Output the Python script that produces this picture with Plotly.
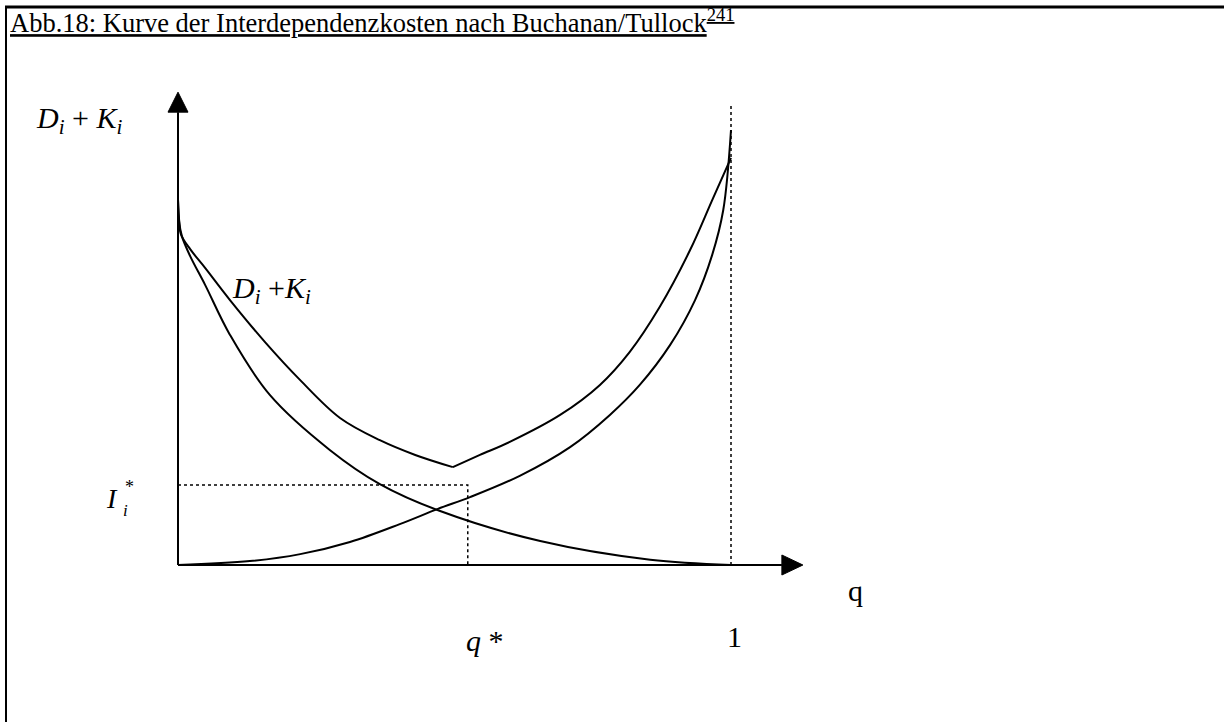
import plotly.graph_objects as go

W, H = 1224, 722
# pixel calibration of the sketch (q = 0 / 1, cost = 0 / 1)
X0_PX, X1_PX = 178, 731
Y0_PX, Y1_PX = 565, 130
SX = X1_PX - X0_PX
SY = Y0_PX - Y1_PX

# ---- data ----
q_D = [0, 0.002, 0.007, 0.022, 0.049, 0.094, 0.166, 0.275, 0.365, 0.474, 0.655, 0.854, 1.0]
cost_D = [0.84, 0.79, 0.756, 0.71, 0.644, 0.529, 0.391, 0.264, 0.186, 0.124, 0.055, 0.012, 0.0]

q_K = [0, 0.130, 0.221, 0.311, 0.401, 0.470, 0.528, 0.618, 0.709, 0.781, 0.835, 0.890,
       0.935, 0.966, 0.986, 1.0]
cost_K = [0, 0.009, 0.025, 0.053, 0.094, 0.129, 0.156, 0.205, 0.271, 0.345, 0.414, 0.506,
          0.609, 0.713, 0.816, 1.0]

q_sum_left = [0, 0.002, 0.005, 0.022, 0.049, 0.094, 0.157, 0.221, 0.293, 0.365, 0.429, 0.497]
cost_sum_left = [0.84, 0.793, 0.761, 0.726, 0.683, 0.609, 0.513, 0.425, 0.338, 0.287, 0.253, 0.225]
q_sum_right = [0.497, 0.546, 0.600, 0.691, 0.763, 0.817, 0.871, 0.926, 0.966, 1.0]
cost_sum_right = [0.225, 0.253, 0.283, 0.345, 0.414, 0.490, 0.593, 0.724, 0.839, 0.936]

q_star = 0.524
I_star = 0.184
q_one = 1.0
one_line_top = 1.057
x_axis_end = 1.130
y_axis_end = 1.087

x_range = [(0 - X0_PX) / SX, (W - X0_PX) / SX]
y_range = [(Y0_PX - H) / SY, Y0_PX / SY]


def px(x):
    return x / W


def py(y):
    return 1 - y / H


fig = go.Figure()
line = dict(color="black", width=2, shape="spline", smoothing=1.0)
fig.add_trace(go.Scatter(x=q_D, y=cost_D, mode="lines", line=line, hoverinfo="skip"))
fig.add_trace(go.Scatter(x=q_K, y=cost_K, mode="lines", line=line, hoverinfo="skip"))
fig.add_trace(go.Scatter(x=q_sum_left, y=cost_sum_left, mode="lines", line=line, hoverinfo="skip"))
fig.add_trace(go.Scatter(x=q_sum_right, y=cost_sum_right, mode="lines", line=line, hoverinfo="skip"))

# dotted guide lines
dot = dict(color="black", width=1.5, dash="dot")
fig.add_trace(go.Scatter(x=[0, q_star, q_star], y=[I_star, I_star, 0], mode="lines",
                         line=dot, hoverinfo="skip"))
fig.add_trace(go.Scatter(x=[q_one, q_one], y=[0, one_line_top], mode="lines",
                         line=dot, hoverinfo="skip"))

shapes = []
# axes
ah_len_y = 20 / SY
ah_half_x = 10 / SX
ah_len_x = 21 / SX
ah_half_y = 10 / SY
shapes.append(dict(type="line", xref="x", yref="y", x0=0, y0=0, x1=0, y1=y_axis_end - ah_len_y,
                   line=dict(color="black", width=2)))
shapes.append(dict(type="line", xref="x", yref="y", x0=0, y0=0, x1=x_axis_end - ah_len_x, y1=0,
                   line=dict(color="black", width=2)))
shapes.append(dict(type="path", xref="x", yref="y",
                   path=f"M {-ah_half_x} {y_axis_end - ah_len_y} L {ah_half_x} {y_axis_end - ah_len_y} L 0 {y_axis_end} Z",
                   fillcolor="black", line=dict(color="black", width=1)))
shapes.append(dict(type="path", xref="x", yref="y",
                   path=f"M {x_axis_end - ah_len_x} {-ah_half_y} L {x_axis_end - ah_len_x} {ah_half_y} L {x_axis_end} 0 Z",
                   fillcolor="black", line=dict(color="black", width=1)))
# frame (top and left border)
shapes.append(dict(type="line", xref="paper", yref="paper", x0=px(5), y0=py(7), x1=1, y1=py(7),
                   line=dict(color="black", width=3)))
shapes.append(dict(type="line", xref="paper", yref="paper", x0=px(6), y0=py(6), x1=px(6), y1=0,
                   line=dict(color="black", width=2)))

serif = "Liberation Serif, Times New Roman, serif"
ann = []


def label(text, x, y, size, xanchor="left"):
    ann.append(dict(text=text, x=px(x), y=py(y), xref="paper", yref="paper", showarrow=False,
                    xanchor=xanchor, yanchor="middle", font=dict(family=serif, size=size, color="black")))


label("<u>Abb.18: Kurve der Interdependenzkosten nach Buchanan/Tullock<sup>241</sup></u>", 8, 21, 26.5)
label("<i>D</i><sub><i>i</i></sub> + <i>K</i><sub><i>i</i></sub>", 34, 120, 30)
label("<i>D</i><sub><i>i</i></sub> +<i>K</i><sub><i>i</i></sub>", 230, 290, 30)
label("<i>I</i>", 104, 499, 28)
label("<i>i</i>", 121, 510, 17)
label("*", 123, 487, 18)
label("<i>q</i> *", 464, 640, 30)
label("1", 734, 636, 30, xanchor="center")
label("q", 855, 590, 30, xanchor="center")

fig.update_layout(
    width=W, height=H, margin=dict(l=0, r=0, t=0, b=0),
    paper_bgcolor="white", plot_bgcolor="white", showlegend=False,
    xaxis=dict(range=x_range, visible=False, fixedrange=True),
    yaxis=dict(range=y_range, visible=False, fixedrange=True),
    shapes=shapes, annotations=ann,
)

fig.write_html("out.html", post_script="document.body.style.margin='0';",
               config={"displayModeBar": False})
